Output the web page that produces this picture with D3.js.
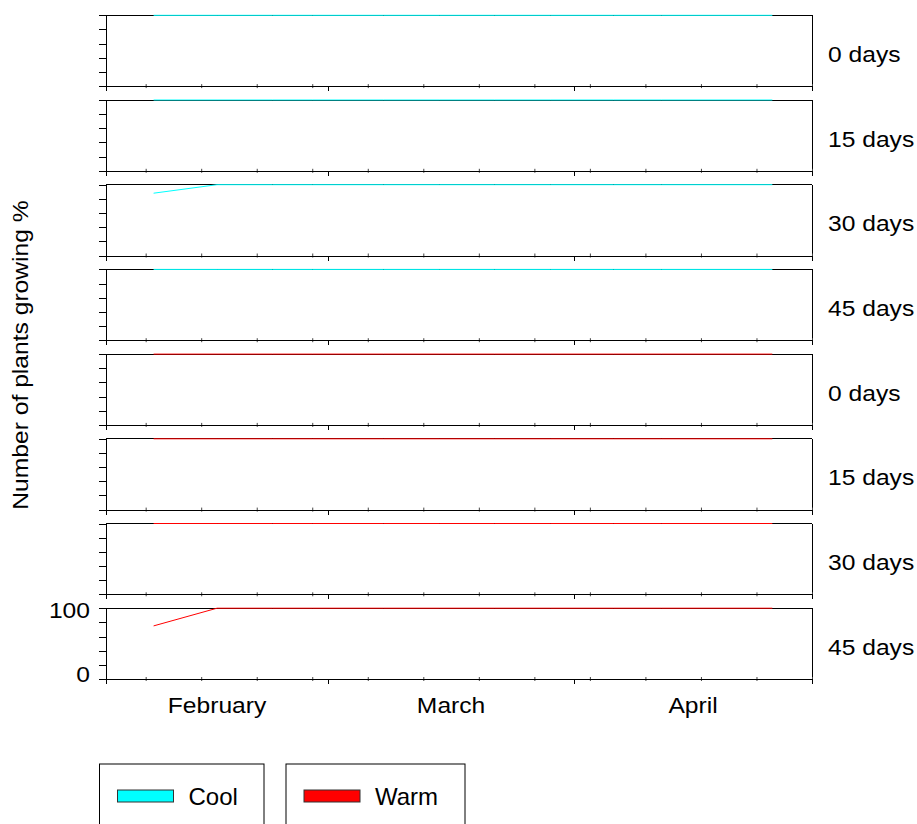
<!DOCTYPE html>
<html>
<head>
<meta charset="utf-8">
<script src="https://cdn.jsdelivr.net/npm/d3@7"></script>
<style>
  body { margin: 0; background: #fff; }
  text { font-family: "Liberation Sans", Arial, sans-serif; fill: #000; }
</style>
</head>
<body>
<div class="canvas"></div>
<script>
// sampling dates (same for every panel)
const dates = ["2001-02-07", "2001-02-15", "2001-02-22", "2001-02-27", "2001-03-08",
  "2001-03-15", "2001-03-22", "2001-03-29", "2001-04-06", "2001-04-12", "2001-04-26"];

// % of plants growing, one list per panel
const cool0 = [100, 100, 100, 100, 100, 100, 100, 100, 100, 100, 100];
const cool15 = [100, 100, 100, 100, 100, 100, 100, 100, 100, 100, 100];
const cool30 = [88, 100, 100, 100, 100, 100, 100, 100, 100, 100, 100];
const cool45 = [100, 100, 100, 100, 100, 100, 100, 100, 100, 100, 100];
const warm0 = [100, 100, 100, 100, 100, 100, 100, 100, 100, 100, 100];
const warm15 = [100, 100, 100, 100, 100, 100, 100, 100, 100, 100, 100];
const warm30 = [100, 100, 100, 100, 100, 100, 100, 100, 100, 100, 100];
const warm45 = [75, 100, 100, 100, 100, 100, 100, 100, 100, 100, 100];

const panelLabels = ["0 days", "15 days", "30 days", "45 days", "0 days", "15 days", "30 days", "45 days"];
const panelGroups = ["Cool", "Cool", "Cool", "Cool", "Warm", "Warm", "Warm", "Warm"];
const months = ["February", "March", "April"];
const yTicks = [0, 20, 40, 60, 80, 100];
const yTickLabels = [0, 100];
const legendItems = ["Cool", "Warm"];

const colors = { Cool: "#00ffff", Warm: "#ff0000" };
const series = [cool0, cool15, cool30, cool45, warm0, warm15, warm30, warm45];

const width = 917;
const height = 824;
const left = 106, right = 812;
const top0 = 15.3, pitch = 84.7, panelH = 70.8;
const fontSize = "22px";
const stretch = 1.12; // text in the picture is drawn wide

const parse = d3.timeParse("%Y-%m-%d");
const xDates = dates.map(parse);

const svg = d3
  .select(".canvas")
  .append("svg")
  .attr("width", width)
  .attr("height", height);

const x = d3
  .scaleTime()
  .domain([new Date(2001, 1, 1), new Date(2001, 4, 1)])
  .range([left, right]);

const monthStarts = d3.timeMonth.range(new Date(2001, 1, 1), new Date(2001, 4, 2));
const weekTicks = d3.timeDay.range(new Date(2001, 1, 6), new Date(2001, 4, 2), 7);

series.forEach((values, i) => {
  const top = top0 + i * pitch;
  const y = d3.scaleLinear().domain([0, 100]).range([top + panelH, top]);
  const g = svg.append("g");

  // top and right frame
  g.append("line")
    .attr("x1", left).attr("x2", right)
    .attr("y1", y(100)).attr("y2", y(100))
    .attr("stroke", "#000").attr("shape-rendering", "crispEdges");
  g.append("line")
    .attr("x1", right).attr("x2", right)
    .attr("y1", y(100)).attr("y2", y(0))
    .attr("stroke", "#000").attr("shape-rendering", "crispEdges");

  // minor weekly ticks
  const minor = g.append("g").attr("transform", `translate(0, ${y(0)})`)
    .call(d3.axisBottom(x).tickValues(weekTicks).tickSize(2).tickSizeOuter(0).tickFormat(""));
  minor.select(".domain").remove();
  minor.selectAll(".tick line").attr("y1", -2).attr("stroke", "#444");

  // bottom axis with month ticks
  g.append("g")
    .attr("transform", `translate(0, ${y(0)})`)
    .call(d3.axisBottom(x).tickValues(monthStarts).tickSize(5).tickSizeOuter(0).tickFormat(""))
    .call((a) => a.selectAll("path, line").attr("stroke", "#000").attr("shape-rendering", "crispEdges"));

  // left axis
  g.append("g")
    .attr("transform", `translate(${left}, 0)`)
    .call(d3.axisLeft(y).tickValues(yTicks).tickSize(7).tickSizeOuter(0).tickFormat(""))
    .call((a) => a.selectAll("path, line").attr("stroke", "#000").attr("shape-rendering", "crispEdges"));

  const line = d3.line()
    .x((d, j) => x(xDates[j]))
    .y((d) => y(d));

  g.append("path")
    .datum(values)
    .attr("fill", "none")
    .attr("stroke", colors[panelGroups[i]])
    .attr("stroke-width", 1)
    .attr("d", line);

  g.append("text")
    .attr("transform", `translate(828, ${top + 46.5}) scale(${stretch}, 1)`)
    .style("font-size", fontSize)
    .text(panelLabels[i]);

  // y labels only on the last panel
  if (i === series.length - 1) {
    yTickLabels.forEach((v) => {
      g.append("text")
        .attr("transform", `translate(90, ${y(v) + (v === 100 ? 10 : 3)}) scale(${stretch}, 1)`)
        .attr("text-anchor", "end")
        .style("font-size", fontSize)
        .text(v);
    });
  }
});

// month names centred in each month
months.forEach((m, i) => {
  const mid = (x(monthStarts[i]) + x(monthStarts[i + 1])) / 2;
  svg.append("text")
    .attr("transform", `translate(${mid}, 713) scale(${stretch}, 1)`)
    .attr("text-anchor", "middle")
    .style("font-size", fontSize)
    .text(m);
});

// y title
svg.append("text")
  .attr("transform", `translate(28, 355) rotate(-90) scale(${stretch}, 1)`)
  .attr("text-anchor", "middle")
  .style("font-size", fontSize)
  .text("Number of plants growing %");

// legend boxes
const legendX = [99.5, 286];
const legendW = [164.5, 179];
legendItems.forEach((name, i) => {
  const lg = svg.append("g").attr("transform", `translate(${legendX[i]}, 764)`);
  lg.append("rect")
    .attr("x", 0).attr("y", 0)
    .attr("width", legendW[i]).attr("height", 80)
    .attr("fill", "none").attr("stroke", "#000");
  lg.append("rect")
    .attr("x", 18).attr("y", 26)
    .attr("width", 56).attr("height", 12)
    .attr("fill", colors[name]).attr("stroke", "#333");
  lg.append("text")
    .attr("x", 89).attr("y", 41)
    .style("font-size", "24px")
    .text(name);
});
</script>
</body>
</html>
